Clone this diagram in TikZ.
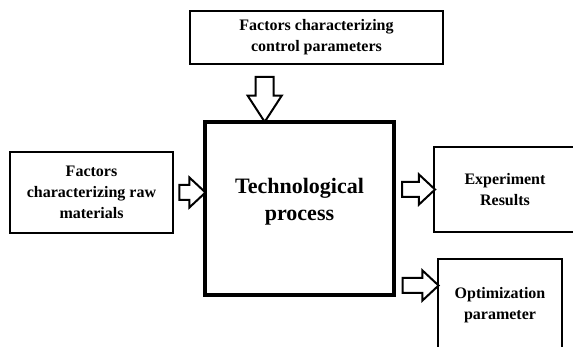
\documentclass[tikz,border=0pt]{standalone}
\usepackage{fontspec}
\setmainfont{Liberation Serif}
\usetikzlibrary{calc,shapes.arrows}
\tikzset{
  % rutor
  box/.style={draw=black,line width=2.4pt,fill=white,align=center,inner sep=2pt,
              font=\fontsize{16}{21}\selectfont\bfseries},
  bigbox/.style={box,line width=4.6pt},
  % tjocka pilar
  fatarrow/.style={single arrow,draw=black,line width=2pt,fill=white,
                   inner xsep=0pt,inner ysep=6.5pt,
                   single arrow head extend=7.5pt,single arrow tip angle=86},
  fatdown/.style={fatarrow,rotate=-90,inner ysep=8pt,
                  single arrow head extend=8pt,single arrow tip angle=66},
}

\begin{document}
\begin{tikzpicture}[x=1pt,y=1pt]
  \useasboundingbox (0,0) rectangle (573,347);
  \node[box,minimum width=253pt,minimum height=53pt] (ctrl) at (316.5,309.5)
    {Factors characterizing\\control parameters};
  \node[bigbox,minimum width=189pt,minimum height=173pt] (proc) at (299.5,138.5) {};
  \node[align=center,font=\fontsize{22}{27}\selectfont\bfseries] (proctext)
    at ([yshift=7pt]proc.center) {Technological\\process};
  \node[box,minimum width=163pt,minimum height=81pt] (raw) at (91.5,154.5)
    {Factors\\characterizing raw\\materials};
  \node[box,minimum width=142pt,minimum height=85pt] (res) at (505,157.5)
    {Experiment\\Results};
  \node[box,minimum width=124pt,minimum height=93pt] (opt) at (500,41.5)
    {Optimization\\parameter};
  % ankarpunkter
  \coordinate (dn) at ([xshift=62pt]proc.north west);
  \coordinate (optin) at ([yshift=20pt]opt.west);
  % pilar
  \path (dn |- ctrl.south) -- node[fatdown,minimum height=45pt] (aCtrl) {} (dn);
  \path (raw.east) -- node[fatarrow,minimum height=26pt] (aRaw) {} (raw.east -| proc.west);
  \path (proc.east |- res.west) -- node[fatarrow,minimum height=33pt] (aRes) {} (res.west);
  \path (proc.east |- optin) -- node[fatarrow,minimum height=36pt] (aOpt) {} (optin);
\end{tikzpicture}
\end{document}
